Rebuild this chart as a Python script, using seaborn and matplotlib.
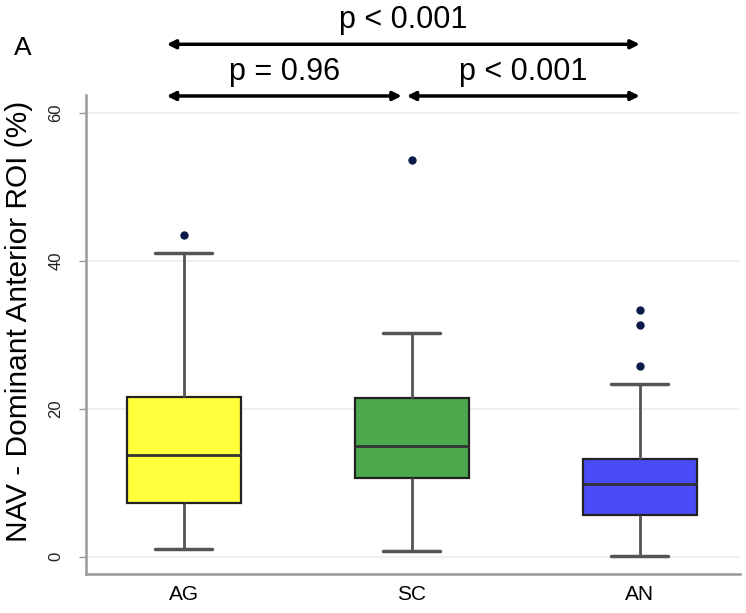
import numpy as np
import pandas as pd
import matplotlib
matplotlib.use("Agg")
import matplotlib.pyplot as plt
import seaborn as sns

# groups and the values (samples chosen so the
# quartiles, whiskers and outliers land where the reference shows them)
groups = ["AG", "SC", "AN"]
ag_vals = [1.0, 4.0, 7.3, 10.0, 13.8, 18.0, 21.6, 41.0, 43.5]
sc_vals = [0.8, 5.0, 10.7, 13.0, 14.9, 18.0, 21.5, 30.3, 53.6]
an_vals = [0.1, 2.0, 3.0, 4.5, 5.6, 6.5, 7.5, 8.5, 9.8, 10.5, 11.0, 12.0,
           13.2, 23.3, 25.8, 31.3, 33.3]
box_colors = ["#FFFF3C", "#4CA84C", "#4B4BF8"]

# comparison labels, top bracket first
p_labels = ["p < 0.001", "p = 0.96", "p < 0.001"]

df = pd.DataFrame({
    "group": ["AG"] * len(ag_vals) + ["SC"] * len(sc_vals) + ["AN"] * len(an_vals),
    "value": ag_vals + sc_vals + an_vals,
})

sns.set_style("white")
plt.rcParams["font.family"] = ["Liberation Sans", "DejaVu Sans"]
plt.rcParams["text.color"] = "black"
plt.rcParams["axes.labelcolor"] = "black"

fig = plt.figure(figsize=(7.46, 6.13), dpi=100)
ax = fig.add_axes([0.115, 0.064, 0.877, 0.781])

for yv in [0, 20, 40, 60]:
    ax.axhline(yv, color="#EEEEEE", lw=1.2, zorder=0)

sns.boxplot(data=df, x="group", y="value", hue="group", order=groups,
            palette=box_colors, saturation=1, width=0.5, linewidth=1.6,
            legend=False, ax=ax,
            boxprops=dict(edgecolor="#222222"),
            medianprops=dict(color="#333333", linewidth=2),
            whiskerprops=dict(color="#555555", linewidth=2),
            capprops=dict(color="#555555", linewidth=2.5),
            flierprops=dict(marker="o", markersize=5, markerfacecolor="#0B1A48",
                            markeredgecolor="#0B1A48"))

ax.set_xlim(-0.43, 2.44)
ax.set_ylim(-2.3, 62.4)
ax.set_yticks([0, 20, 40, 60])
ax.set_yticklabels(["0", "20", "40", "60"], rotation=90, va="center",
                   fontsize=12, color="#222222")
ax.tick_params(axis="y", length=5, width=1, color="#999999", direction="out",
               left=True, pad=11)
ax.tick_params(axis="x", length=0, labelsize=15, labelcolor="black", pad=8)
ax.set_xlabel("")
ax.set_ylabel("NAV - Dominant Anterior ROI (%)", fontsize=21.5)
ax.yaxis.set_label_coords(-0.081, 0.528)

for s in ["top", "right"]:
    ax.spines[s].set_visible(False)
for s in ["left", "bottom"]:
    ax.spines[s].set_color("#999999")
    ax.spines[s].set_linewidth(1.8)

trans = ax.get_xaxis_transform()
arrow = dict(arrowstyle="<|-|>,head_length=0.5,head_width=0.25",
             color="black", lw=2.5, shrinkA=0, shrinkB=0)
brackets = [(-0.075, 2.0, 1.106), (-0.075, 0.956, 0.998), (0.978, 2.0, 0.998)]
text_y = [1.157, 1.048, 1.048]
for (x0, x1, yb), lab, ty in zip(brackets, p_labels, text_y):
    ax.annotate("", xy=(x0, yb), xytext=(x1, yb), xycoords=trans,
                textcoords=trans, arrowprops=arrow, annotation_clip=False)
    ax.text((x0 + x1) / 2, ty, lab, transform=trans, ha="center",
            va="center", fontsize=22)

fig.text(0.03, 0.922, "A", fontsize=19, ha="center", va="center")

fig.savefig("out.png", dpi=100)
